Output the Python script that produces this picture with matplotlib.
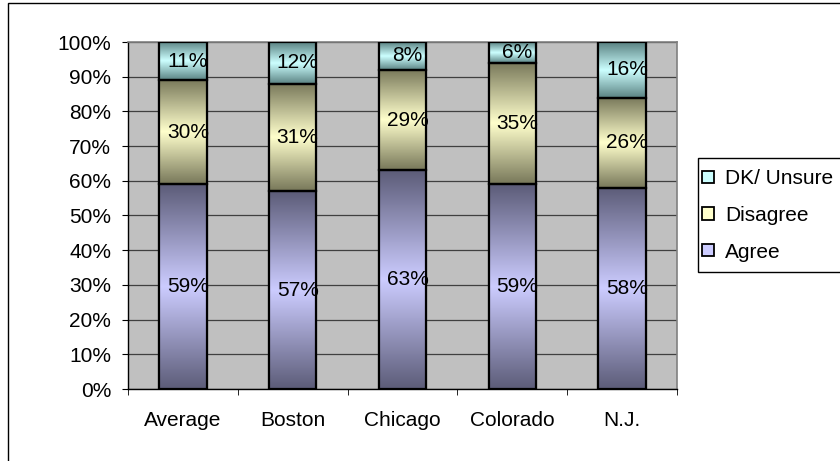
import matplotlib
matplotlib.use("Agg")
import matplotlib.pyplot as plt
import numpy as np
from matplotlib.colors import LinearSegmentedColormap
from matplotlib.patches import Rectangle

plt.rcParams['font.family'] = ['Liberation Sans', 'DejaVu Sans']

categories = ["Average", "Boston", "Chicago", "Colorado", "N.J."]
agree = [59, 57, 63, 59, 58]
disagree = [30, 31, 29, 35, 26]
dk_unsure = [11, 12, 8, 6, 16]
series_names = ["Agree", "Disagree", "DK/ Unsure"]
y_ticks = [0, 10, 20, 30, 40, 50, 60, 70, 80, 90, 100]

light_cols = ["#CCCCFF", "#FFFFCC", "#CCFFFF"]
dark_cols = ["#5C5C78", "#78785A", "#5A8282"]
FS = 15

W, H = 840, 461
fig = plt.figure(figsize=(W/100, H/100), dpi=100)
fig.patch.set_facecolor("white")
# outer chart border (extends past canvas on right/bottom)
fig.add_artist(Rectangle((8/W, -0.05), 1.1, 1 - 3/H + 0.05, transform=fig.transFigure,
                         fill=False, edgecolor="black", linewidth=1.0))

ax = fig.add_axes([128/W, 1-389/H, (677-128)/W, (389-42)/H])
ax.set_facecolor("#C0C0C0")

x = np.arange(len(categories))
width = 0.43
bottoms = np.zeros(len(categories))
handles = []
for i, vals in enumerate([agree, disagree, dk_unsure]):
    vals = np.array(vals, dtype=float)
    bars = ax.bar(x, vals, width, bottom=bottoms, facecolor=light_cols[i],
                  edgecolor="black", linewidth=1.5, zorder=3, label=series_names[i])
    cmap = LinearSegmentedColormap.from_list("g%d" % i, [dark_cols[i], light_cols[i], dark_cols[i]])
    grad = np.linspace(0, 1, 256).reshape(-1, 1)
    for b in bars:
        bx, by = b.get_x(), b.get_y()
        bw, bh = b.get_width(), b.get_height()
        ax.imshow(grad, cmap=cmap, extent=[bx, bx + bw, by, by + bh],
                  aspect="auto", origin="lower", zorder=3.5, interpolation="bilinear")
        ax.add_patch(Rectangle((bx, by), bw, bh, fill=False, edgecolor="black",
                               linewidth=1.6, zorder=4))
        ax.text(bx + bw/2 + 0.045, by + bh/2, "%d%%" % round(bh), ha="center", va="center",
                fontsize=FS, zorder=5, color="black")
    handles.append(bars)
    bottoms += vals

ax.set_xlim(-0.5, len(categories) - 0.5)
ax.set_ylim(0, 100)
ax.set_yticks(y_ticks)
ax.set_yticklabels(["%d%%" % t for t in y_ticks], fontsize=FS)
ax.set_xticks(x)
ax.set_xticklabels(categories, fontsize=FS)
ax.tick_params(axis="x", length=0, pad=16)
ax.set_xticks(np.arange(-0.5, len(categories)), minor=True)
ax.tick_params(axis="x", which="minor", length=4, direction="out", color="black")
ax.tick_params(axis="y", length=4, direction="out", color="black", pad=8)
ax.yaxis.grid(True, color="#404040", linewidth=0.9, zorder=0)
ax.set_axisbelow(True)
for s in ["top", "right"]:
    ax.spines[s].set_color("#808080")
    ax.spines[s].set_linewidth(1.2)
for s in ["left", "bottom"]:
    ax.spines[s].set_color("black")
    ax.spines[s].set_linewidth(1.0)

# legend box (extends past canvas on right)
fig.add_artist(Rectangle((698/W, 1-272/H), 0.3, (272-158)/H, transform=fig.transFigure,
                         facecolor="white", edgecolor="black", linewidth=1.0))
leg = fig.legend([handles[2], handles[1], handles[0]],
                 ["DK/ Unsure", "Disagree", "Agree"],
                 loc="upper left", bbox_to_anchor=(698/W, 1-165/H),
                 frameon=False, fontsize=FS,
                 handlelength=0.55, handleheight=0.55, handletextpad=0.55,
                 borderpad=0.2, labelspacing=0.85, borderaxespad=0)
for p in leg.get_patches():
    p.set_linewidth(1.3)

fig.savefig("out.png", dpi=100)
